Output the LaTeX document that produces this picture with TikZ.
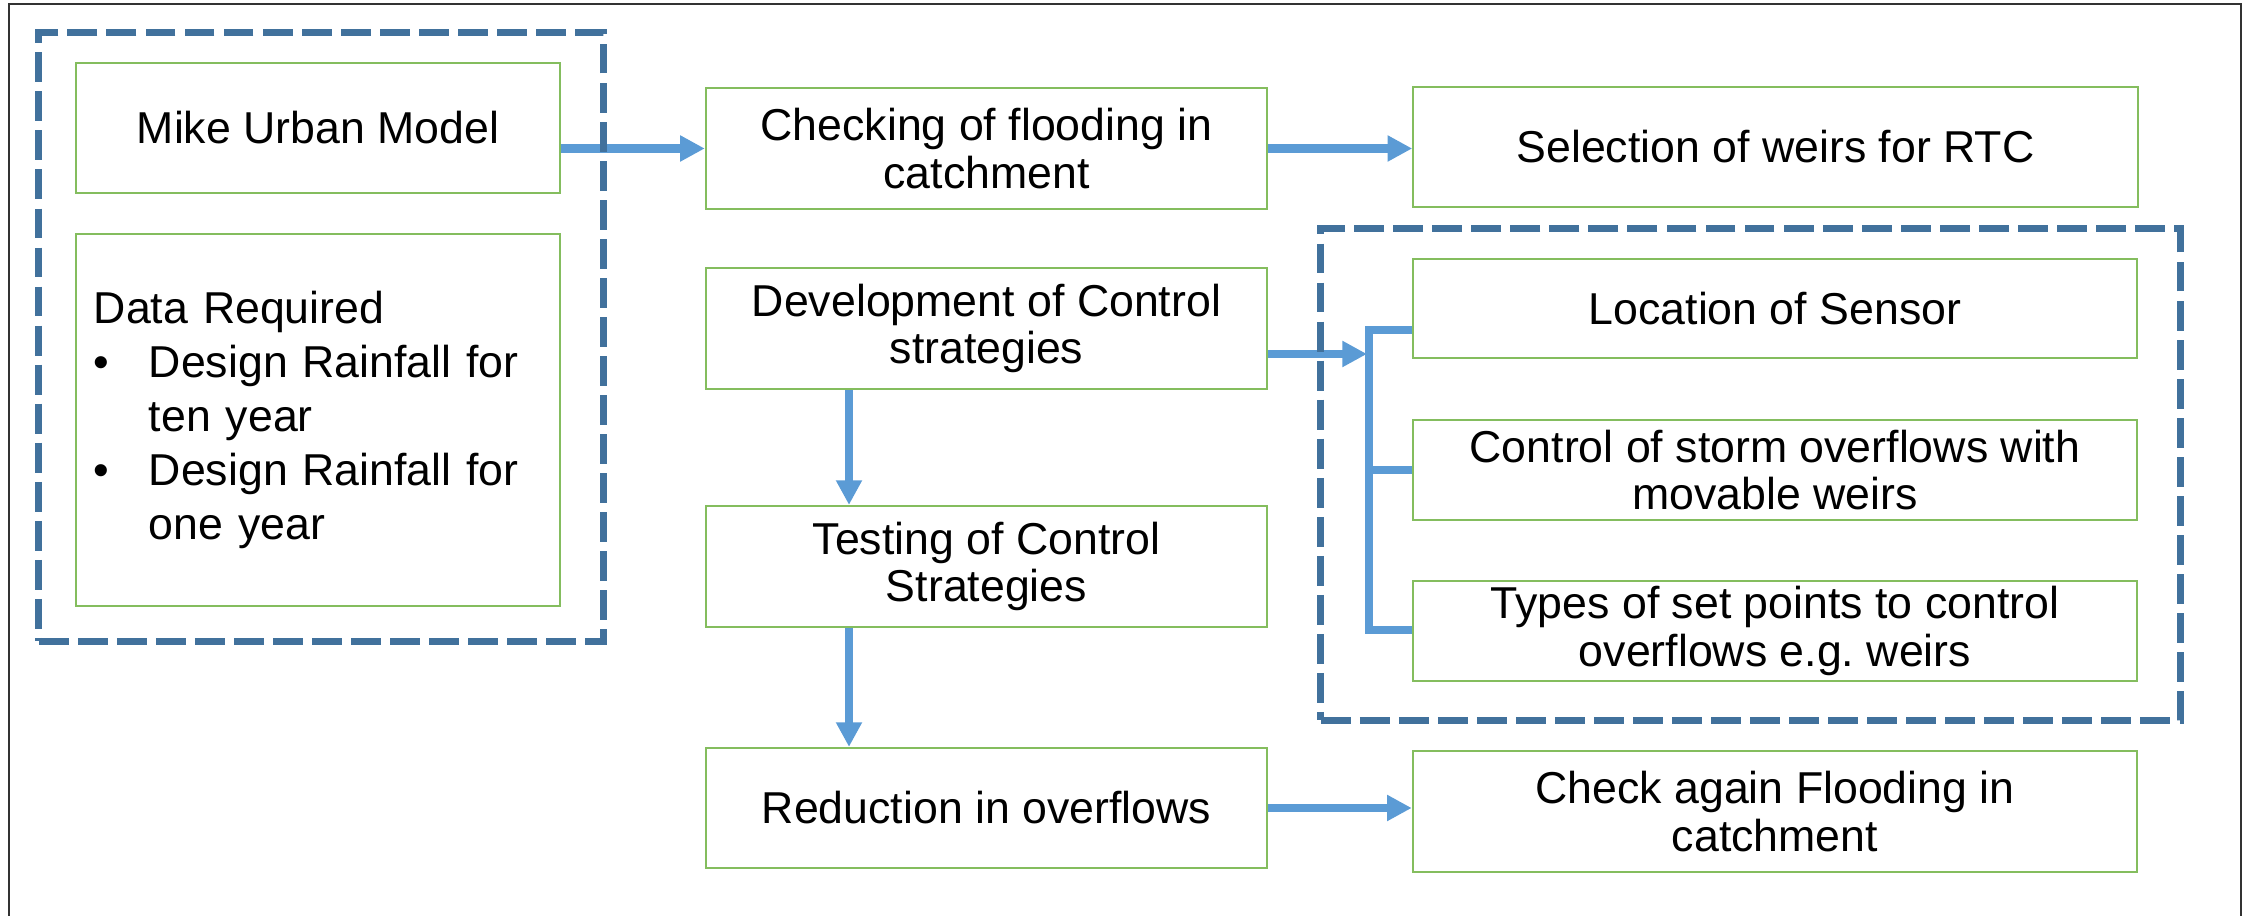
\documentclass[tikz,border=0pt]{standalone}
\usepackage{fontspec}
\setmainfont{Liberation Sans}
\usetikzlibrary{arrows.meta}
\definecolor{boxgreen}{HTML}{84BD5E}
\definecolor{flowblue}{HTML}{5B9BD5}
\definecolor{groupblue}{HTML}{41719C}

\begin{document}
\begin{tikzpicture}[x=0.01cm,y=-0.01cm,
  font=\fontsize{12.7pt}{13.5pt}\selectfont,
  box/.style={draw=boxgreen,line width=0.6pt,inner sep=0pt,align=center,
    minimum width=5.61cm,minimum height=1.21cm},
  widebox/.style={box,minimum width=7.24cm},
  group/.style={draw=groupblue,line width=2pt,dash pattern=on 8.5pt off 2.6pt},
  flow/.style={draw=flowblue,line width=2.3pt,-{Triangle[length=7pt,width=7pt]}},
  link/.style={draw=flowblue,line width=2.3pt}]
\useasboundingbox (0,0) rectangle (2244,916);
\draw[black!80,line width=0.6pt] (9,916) |- (2241,4) -- (2241,916);

  % model and input data
  \node[box,minimum width=4.84cm,minimum height=1.3cm] (mike) at (318,128) {Mike Urban Model};
  \node[box,minimum width=4.84cm,minimum height=3.72cm,text width=4.48cm,align=left,
    font=\fontsize{12.7pt}{15.3pt}\selectfont] (data) at (318,420)
    {Data Required\\
     \makebox[0.55cm][l]{\textbullet}Design Rainfall for\\
     \hspace*{0.55cm}ten year\\
     \makebox[0.55cm][l]{\textbullet}Design Rainfall for\\
     \hspace*{0.55cm}one year};

  % middle column
  \node[box] (check) at (986.5,148.5) {Checking of flooding in\\catchment};
  \node[box] (develop) at (986.5,328.5) {Development of Control\\strategies};
  \node[box] (testing) at (986.5,566.5) {Testing of Control\\Strategies};
  \node[box,minimum height=1.2cm] (reduce) at (986.5,808) {Reduction in overflows};

  % right column
  \node[widebox,minimum height=1.2cm] (select) at (1775.5,147) {Selection of weirs for RTC};
  \node[widebox,minimum height=0.99cm] (location) at (1775,308.5) {Location of Sensor};
  \node[widebox,minimum height=1cm] (stormctl) at (1775,470) {Control of storm overflows with\\movable weirs};
  \node[widebox,minimum height=1cm] (setpts) at (1775,631) {Types of set points to control\\overflows e.g.\ weirs};
  \node[widebox] (recheck) at (1775,811.5) {Check again Flooding in\\catchment};

  \coordinate (btop) at (1369,330);
  \coordinate (bbot) at (1369,630);
  \coordinate (bjoin) at (1367,354);
  \coordinate (spine) at (849,0);

  \draw[flow] (mike.east |- check.west) -- (check.west);
  \draw[flow] (check.east) -- (check.east -| select.west);
  \draw[flow] (develop.east |- bjoin) -- (bjoin);
  \draw[link] (location.west |- btop) -- (btop) -- (bbot) -- (setpts.west |- bbot);
  \draw[link] (stormctl.west) -- (stormctl.west -| btop);
  \draw[flow] (develop.south -| spine) -- (testing.north -| spine);
  \draw[flow] (testing.south -| spine) -- (reduce.north -| spine);
  \draw[flow] (reduce.east) -- (reduce.east -| recheck.west);

  % dashed groups
  \node[group,minimum width=5.64cm,minimum height=6.08cm] (inputs) at (321,337) {};
  \node[group,minimum width=8.59cm,minimum height=4.91cm] (strategy) at (1750.5,474.5) {};
\end{tikzpicture}
\end{document}
